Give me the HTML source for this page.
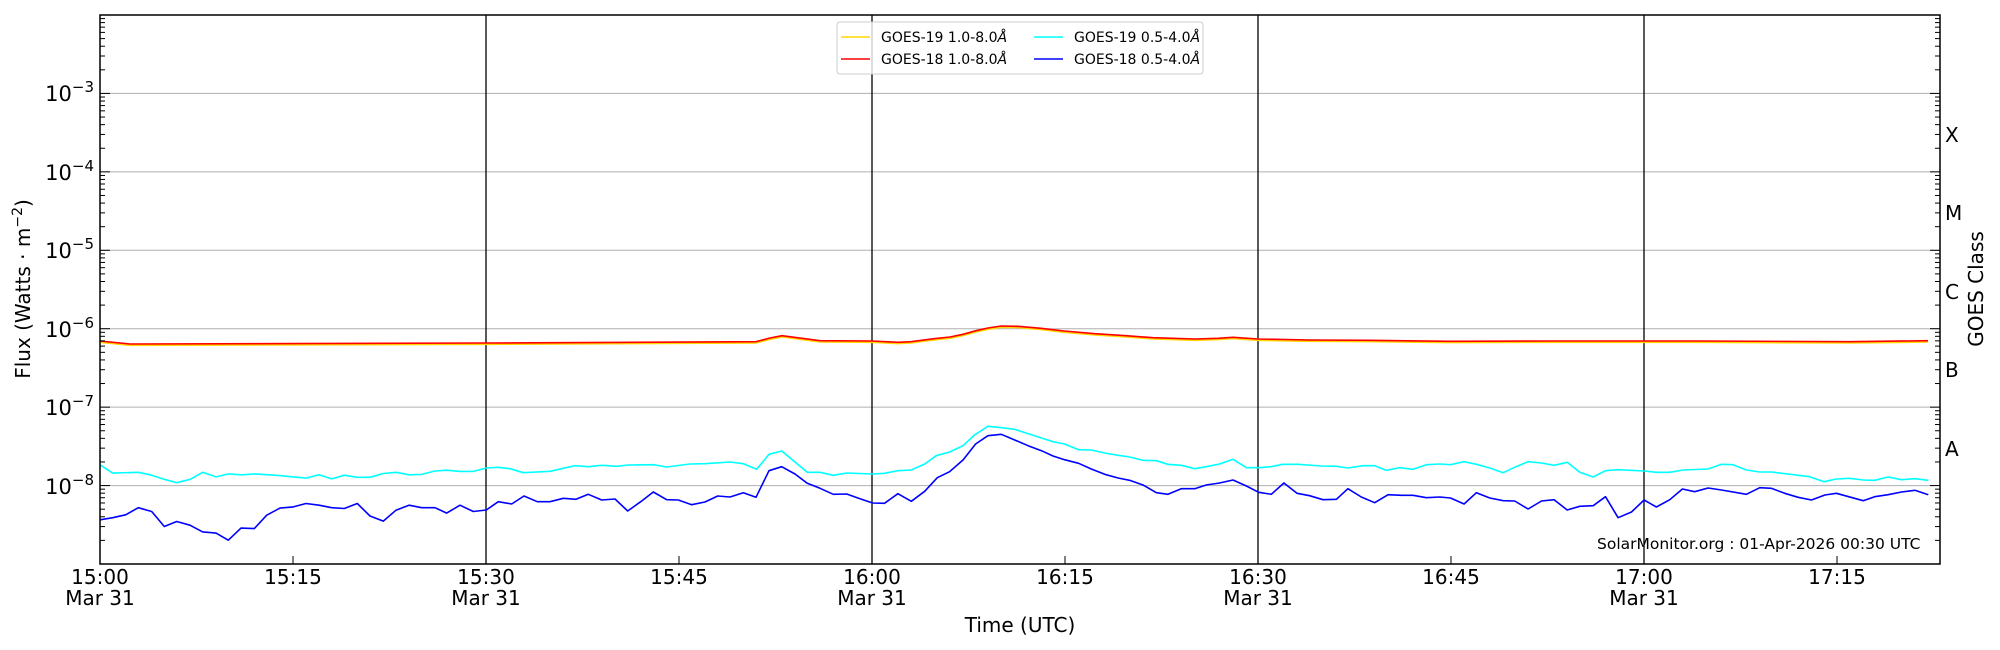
<!DOCTYPE html>
<html><head><meta charset="utf-8"><style>
body{margin:0;background:#fff}
svg{display:block;font-family:"DejaVu Sans","Liberation Sans",sans-serif}
</style></head><body>
<svg id="s" width="2000" height="650" viewBox="0 0 2000 650" xmlns="http://www.w3.org/2000/svg">
<rect width="2000" height="650" fill="#fff"/>
<g id="grid" stroke="#b0b0b0" stroke-width="1"></g>
<g id="vl" stroke="#000" stroke-width="1.3"></g>
<g id="data" fill="none" stroke-width="1.6" stroke-linejoin="round"></g>
<g id="ticks" stroke="#000" stroke-width="1"></g>
<rect x="100" y="15" width="1840" height="549" fill="none" stroke="#000" stroke-width="1.5"/>
<g font-size="21" fill="#000" text-anchor="end">
<text x="94" y="101">10<tspan dy="-9" font-size="15">−3</tspan></text>
<text x="94" y="180">10<tspan dy="-9" font-size="15">−4</tspan></text>
<text x="94" y="258">10<tspan dy="-9" font-size="15">−5</tspan></text>
<text x="94" y="337">10<tspan dy="-9" font-size="15">−6</tspan></text>
<text x="94" y="415">10<tspan dy="-9" font-size="15">−7</tspan></text>
<text x="94" y="494">10<tspan dy="-9" font-size="15">−8</tspan></text>
</g>
<g font-size="20" fill="#000" text-anchor="middle">
<text x="100" y="584">15:00</text><text x="100" y="605">Mar 31</text>
<text x="293" y="584">15:15</text>
<text x="486" y="584">15:30</text><text x="486" y="605">Mar 31</text>
<text x="679" y="584">15:45</text>
<text x="872" y="584">16:00</text><text x="872" y="605">Mar 31</text>
<text x="1065" y="584">16:15</text>
<text x="1258" y="584">16:30</text><text x="1258" y="605">Mar 31</text>
<text x="1451" y="584">16:45</text>
<text x="1644" y="584">17:00</text><text x="1644" y="605">Mar 31</text>
<text x="1837" y="584">17:15</text>
<text x="1020" y="632">Time (UTC)</text>
<text transform="translate(30,289) rotate(-90)">Flux (Watts · m<tspan dy="-8" font-size="14">−2</tspan><tspan dy="8">)</tspan></text>
<text transform="translate(1983,289) rotate(-90)">GOES Class</text>
</g>
<g font-size="20" fill="#000">
<text x="1945" y="142">X</text><text x="1945" y="220">M</text><text x="1945" y="299">C</text>
<text x="1945" y="377">B</text><text x="1945" y="456">A</text>
</g>
<text x="1597" y="549" font-size="15.5" fill="#000">SolarMonitor.org : 01-Apr-2026 00:30 UTC</text>
<rect x="837" y="22" width="366" height="52" rx="3" fill="#fff" fill-opacity="0.8" stroke="#ccc"/>
<g stroke-width="1.5">
<line x1="841" y1="37" x2="870" y2="37" stroke="#ffd700"/>
<line x1="841" y1="59" x2="870" y2="59" stroke="#ff0000"/>
<line x1="1034" y1="37" x2="1063" y2="37" stroke="#00ffff"/>
<line x1="1034" y1="59" x2="1063" y2="59" stroke="#0000ff"/>
</g>
<g font-size="14" fill="#000">
<text x="881" y="42">GOES-19 1.0-8.0<tspan font-style="italic">Å</tspan></text>
<text x="881" y="64">GOES-18 1.0-8.0<tspan font-style="italic">Å</tspan></text>
<text x="1074" y="42">GOES-19 0.5-4.0<tspan font-style="italic">Å</tspan></text>
<text x="1074" y="64">GOES-18 0.5-4.0<tspan font-style="italic">Å</tspan></text>
</g>
</svg>
<script>
var NS="http://www.w3.org/2000/svg";
function el(p,t,a){var e=document.createElementNS(NS,t);for(var k in a)e.setAttribute(k,a[k]);p.appendChild(e);return e;}
var T=15,B=564,L=100,R=1940,dec=(B-T)/7;
function yv(lg){return B-(lg+9)*dec;}
var g=document.getElementById('grid');
for(var d=-8;d<=-3;d++){el(g,'line',{x1:L,x2:R,y1:yv(d),y2:yv(d)});}
var v=document.getElementById('vl');
[486,872,1258,1644].forEach(function(x){el(v,'line',{x1:x,x2:x,y1:T,y2:B});});
var tk=document.getElementById('ticks');
for(var d=-9;d<-2;d++){for(var m=1;m<10;m++){var y=yv(d+Math.log10(m));if(y<T)continue;var len=m==1?10:5;
el(tk,'line',{x1:L,x2:L+len,y1:y,y2:y});el(tk,'line',{x1:R,x2:R-len,y1:y,y2:y});}}
for(var i=0;i<10;i++){var x=100+i*193;if(x>R)break;el(tk,'line',{x1:x,x2:x,y1:B,y2:B-8});}
function seg(arr,x0,fx,y0,fy,xmin,xmax,out){for(var i=0;i<arr.length;i+=2){var x=x0+arr[i]/fx,y=y0+arr[i+1]/fy;if(x>=xmin&&x<xmax)out.push(x,y);}}
function draw(pts,col,off){var d='';for(var i=0;i<pts.length;i+=2){d+=(i?'L':'M')+pts[i].toFixed(1)+','+(pts[i+1]+(off||0)).toFixed(1);}
el(document.getElementById('data'),'path',{d:d,stroke:col});}
var red=[100,341,130,344,486,343,756,341.7,770,338,782,335.7,820,340.7,872,341,898,342.3,911,341.7,934,338.7,950,337,963,334.3,976,330.7,988,328,1001,326,1018,326.3,1041,328.3,1064,331,1095,333.7,1126,335.7,1153,337.7,1195,339,1218,338.3,1233,337.3,1258,339,1310,340,1367,340.3,1450,341.3,1550,341,1700,341,1850,341.7,1928,340.7];
draw(red,'#ffd700',1.3);draw(red,'#ff0000',0);
// cyan
var c1=[300,1115,338,1135,415,1133,455,1140,493,1150,530,1158,570,1150,608,1133,648,1144,685,1137,725,1139,765,1137,840,1141,880,1144,918,1147,957,1139,995,1149,1033,1140,1072,1145,1110,1145,1150,1136,1188,1133,1227,1139,1265,1138,1305,1130,1340,1128,1380,1131,1420,1131,1460,1129,1500,1127];
var c3=[109,504,145,502,180,506,220,518,300,514,375,497,415,500,455,496,500,499,535,495,610,494,650,501,720,492,765,491,840,486,880,491,920,508,957,463,995,453,1072,517,1110,517,1150,526,1190,519,1267,522];
var c2=[59,522,90,520,125,512,160,510,195,492,225,467,260,456,295,437,325,405,360,379,395,383,430,388,470,403,500,414,530,425,560,432,597,449,630,450,665,459,700,466,730,471,765,481,800,482,830,493,865,496,900,506,930,500,965,492,1000,478,1035,503,1067,503,1100,500,1130,493,1170,493,1230,498,1270,499,1300,504,1340,497,1370,497,1400,511,1435,503,1470,508,1505,494,1540,492,1568,494];
var c4=[0,503,30,497,60,497,95,511,130,503,163,509,195,495,230,492,263,495,298,485,330,493,365,504,400,518,430,502,465,485,500,489,533,496,567,487,600,517,635,531,667,512,700,509,768,513,800,517,835,517,870,510,935,507,970,493,1000,494,1035,510,1070,516,1100,516,1200,530,1238,545,1270,537,1305,535,1340,540,1370,541,1405,531,1440,539,1475,536,1510,541];
var cp=[];seg(c1,0,3,0,2.399,0,486,cp);seg(c3,450,3,300,3,486,872,cp);seg(c2,850,2.611,300,3,872,1451,cp);seg(c4,1350,2.611,300,3,1451,2000,cp);
draw(cp,'#00ffff',0);
// blue
var b1=[300,1247,338,1242,377,1235,415,1218,455,1227,493,1263,530,1251,570,1260,608,1276,648,1279,685,1296,723,1267,763,1268,800,1236,840,1219,880,1216,918,1208,957,1212,995,1218,1033,1220,1072,1208,1110,1238,1150,1250,1188,1224,1227,1212,1265,1218,1305,1218,1340,1231,1380,1212,1420,1227,1460,1230];
var b3=[109,630,145,605,185,612,222,588,262,605,300,605,340,595,378,598,415,583,455,600,495,597,533,633,572,605,610,576,650,599,685,600,725,614,765,606,803,588,840,591,880,578,918,592,957,512,995,500,1035,522,1072,550,1110,565,1150,583,1190,582,1230,596,1267,610];
var b2=[59,609,90,610,125,581,160,604,195,574,228,533,260,515,295,480,328,432,360,407,395,403,430,420,465,437,500,452,530,468,560,479,597,490,630,507,665,523,700,534,730,541,765,555,800,578,830,583,865,566,900,566,930,555,965,549,1000,540,1035,558,1067,577,1100,583,1133,549,1167,580,1200,587,1235,599,1270,598,1300,566,1335,591,1370,608,1405,584,1440,586,1470,586,1505,593,1540,591,1568,594];
var b4=[0,570,30,592,62,607,95,584,130,587,163,587,195,594,230,591,263,594,298,612,330,578,365,594,400,602,430,603,465,627,500,603,533,599,567,630,600,619,635,617,667,590,700,653,735,636,768,600,800,621,835,599,868,567,900,575,935,564,970,570,1035,583,1070,563,1100,565,1135,580,1170,592,1205,600,1240,585,1270,580,1340,602,1370,590,1405,584,1440,576,1475,571,1510,584];
var bp=[];seg(b1,0,3,0,2.399,0,486,bp);seg(b3,450,3,300,3,486,872,bp);seg(b2,850,2.611,300,3,872,1451,bp);seg(b4,1350,2.611,300,3,1451,2000,bp);
draw(bp,'#0000ff',0);
</script>
</body></html>
